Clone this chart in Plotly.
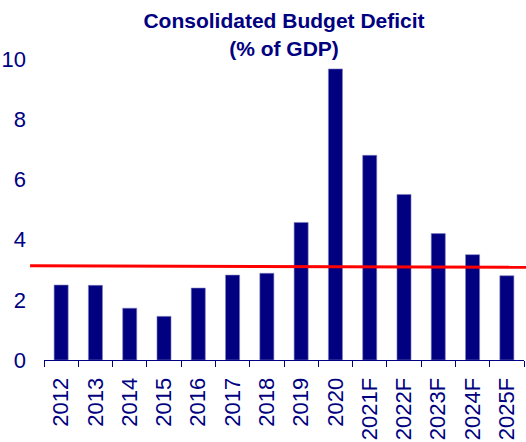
import plotly.graph_objects as go

categories = ["2012", "2013", "2014", "2015", "2016", "2017", "2018", "2019",
              "2020", "2021F", "2022F", "2023F", "2024F", "2025F"]
deficit = [2.49, 2.48, 1.72, 1.45, 2.39, 2.82, 2.88, 4.57, 9.67, 6.80, 5.50, 4.20, 3.50, 2.80]
threshold_y = [3.13, 3.08]
yticks = [0, 2, 4, 6, 8, 10]

NAVY = "#000080"
FONT = "Arial, Liberation Sans, sans-serif"

fig = go.Figure()
fig.add_trace(go.Bar(
    x=categories, y=deficit, width=0.41,
    marker=dict(color=NAVY, line=dict(color="#7f7fbf", width=0.6)),
))

fig.add_shape(type="line", xref="paper", yref="y",
              x0=-0.029, x1=1.01, y0=threshold_y[0], y1=threshold_y[1],
              line=dict(color="#ff0000", width=3), layer="above")

fig.update_layout(
    width=526, height=442,
    margin=dict(l=44, r=2, t=59, b=82),
    plot_bgcolor="white", paper_bgcolor="white",
    showlegend=False,
    title=dict(text="Consolidated Budget Deficit<br>(% of GDP)",
               font=dict(family=FONT, size=21, color=NAVY, weight="bold"),
               x=0.54, xanchor="center", xref="container",
               y=0.936, yanchor="top", yref="container"),
    font=dict(family=FONT, color=NAVY),
)
fig.update_xaxes(
    type="category", tickangle=-90, tickfont=dict(size=22, color=NAVY),
    showline=True, linecolor=NAVY, linewidth=1,
    ticks="outside", ticklen=6, tickcolor=NAVY, tickson="boundaries",
    ticklabelstandoff=8, showgrid=False, range=[-0.5, 13.5],
)
fig.update_yaxes(
    range=[0, 10], tickvals=yticks, tickfont=dict(size=22, color=NAVY),
    showline=False, showgrid=False, zeroline=False, ticks="",
    ticklabelstandoff=17,
)

fig.write_html("out.html")
